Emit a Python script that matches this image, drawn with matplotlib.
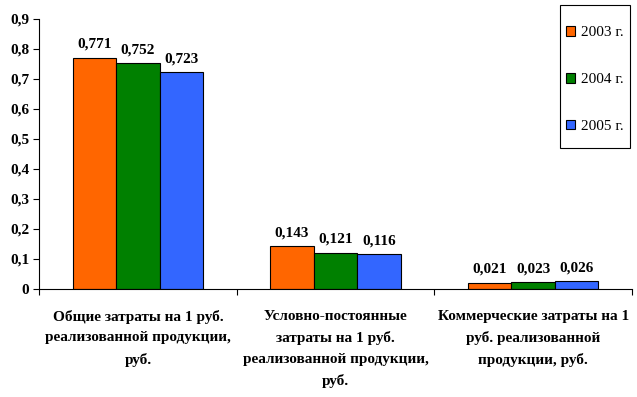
import matplotlib
matplotlib.use("Agg")
import matplotlib.pyplot as plt
from matplotlib.patches import Rectangle
import numpy as np

categories = [
    "Общие затраты на 1 руб.\nреализованной продукции,\nруб.",
    "Условно-постоянные\nзатраты на 1 руб.\nреализованной продукции,\nруб.",
    "Коммерческие затраты на 1\nруб. реализованной\nпродукции, руб.",
]
series_names = ["2003 г.", "2004 г.", "2005 г."]
values_2003 = [0.771, 0.143, 0.021]
values_2004 = [0.752, 0.121, 0.023]
values_2005 = [0.723, 0.116, 0.026]
colors = ["#FF6600", "#008000", "#3366FF"]
yticks = [0, 0.1, 0.2, 0.3, 0.4, 0.5, 0.6, 0.7, 0.8, 0.9]

plt.rcParams['font.family'] = ['Liberation Serif', 'DejaVu Serif']

W, H = 637, 397
fig = plt.figure(figsize=(W/100, H/100), dpi=100)
ax = fig.add_axes([39/W, 1-289/H, (632-39)/W, (289-19)/H])

x = np.arange(len(categories))
w = 0.22
series = [values_2003, values_2004, values_2005]
for i, (vals, name, c) in enumerate(zip(series, series_names, colors)):
    pos = x + (i - 1) * w
    ax.bar(pos, vals, width=w, color=c, edgecolor='black', linewidth=0.8, label=name)
    for p, v in zip(pos, vals):
        ax.annotate(f"{v:.3f}".replace('.', ','), (p, v), xytext=(0, 5),
                    textcoords='offset points', ha='center', va='bottom',
                    fontsize=11, fontweight='bold')

ax.set_xlim(-0.5, 2.5)
ax.set_ylim(0, 0.9)
ax.set_yticks(yticks)
ax.set_yticklabels(["0" if t == 0 else f"{t:.1f}".replace('.', ',') for t in yticks],
                   fontsize=11, fontweight='bold')
ax.set_xticks([-0.5, 0.5, 1.5, 2.5], minor=False)
ax.set_xticklabels([])
ax.set_xticks(x, minor=True)
ax.set_xticklabels(categories, minor=True, fontsize=11, fontweight='bold', linespacing=1.75, va='top')
ax.tick_params(axis='x', which='minor', length=0, pad=15)
ax.tick_params(axis='x', which='major', length=4, direction='out')
ax.tick_params(axis='y', length=4, direction='out', pad=3)
for s in ['top', 'right']:
    ax.spines[s].set_visible(False)
for s in ['left', 'bottom']:
    ax.spines[s].set_linewidth(0.8)

leg = ax.legend(loc='upper left', bbox_to_anchor=(566/W, 1-26/H), bbox_transform=fig.transFigure,
                fontsize=11, frameon=False,
                labelspacing=2.2, borderpad=0, handlelength=0.6, handleheight=0.6,
                handletextpad=0.35, borderaxespad=0)
fig.patches.append(Rectangle((560/W, 1-148/H), 70/W, 143/H, transform=fig.transFigure,
                             fill=False, edgecolor='black', linewidth=0.8))

fig.savefig("out.png", dpi=100)
